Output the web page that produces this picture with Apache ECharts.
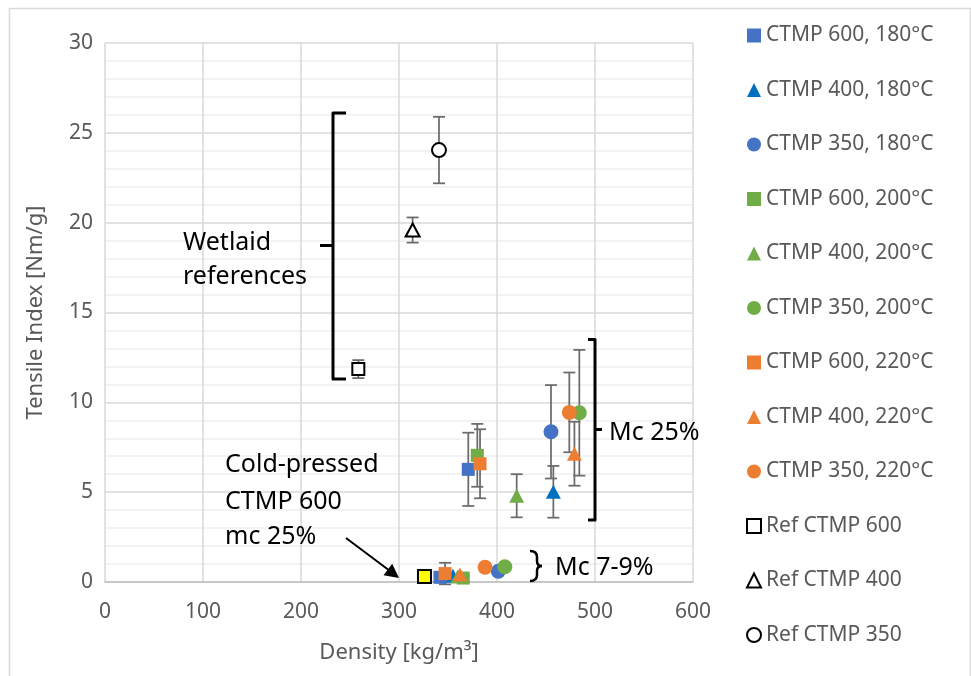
<!DOCTYPE html>
<html>
<head>
<meta charset="utf-8">
<script src="https://cdn.jsdelivr.net/npm/echarts@6/dist/echarts.min.js"></script>
<style>
  html, body { margin: 0; padding: 0; background: #fff; }
  #chart { width: 971px; height: 676px; }
</style>
</head>
<body>
<div id="chart"></div>
<script>
// Density [kg/m3], tensile index [Nm/g], standard deviation [Nm/g]
const ctmp600_180 = [[370.7, 6.27, 2.04], [341.8, 0.26, 0]];
const ctmp400_180 = [[457.5, 5.02, 1.44], [355.0, 0.35, 0]];
const ctmp350_180 = [[455.1, 8.36, 2.60], [401.3, 0.60, 0]];
const ctmp600_200 = [[379.9, 7.05, 1.75], [365.6, 0.22, 0]];
const ctmp400_200 = [[420.1, 4.80, 1.20], [360.0, 0.30, 0]];
const ctmp350_200 = [[484.0, 9.42, 3.50], [408.0, 0.85, 0]];
const ctmp600_220 = [[382.7, 6.58, 1.92], [347.0, 0.47, 0.60]];
const ctmp400_220 = [[479.0, 7.14, 1.78], [362.2, 0.42, 0]];
const ctmp350_220 = [[473.8, 9.44, 2.22], [387.8, 0.82, 0]];
const refCtmp600 = [[258.5, 11.85, 0.50]];
const refCtmp400 = [[313.9, 19.59, 0.70]];
const refCtmp350 = [[340.8, 24.04, 1.85]];
const coldPressed600 = [[326.0, 0.30, 0]];

const xTicks = { min: 0, max: 600, step: 100 };
const yTicks = { min: 0, max: 30, step: 5 };

const BLUE = '#4472C4', BLUE2 = '#0070C0', GREEN = '#70AD47', ORANGE = '#ED7D31';
const FONT = 'Noto Sans';
const GREY_TEXT = '#595959';

const seriesDefs = [
  { name: 'CTMP 600, 180°C', data: ctmp600_180, symbol: 'rect', size: 13, color: BLUE },
  { name: 'CTMP 400, 180°C', data: ctmp400_180, symbol: 'triangle', size: [15, 14], color: BLUE2 },
  { name: 'CTMP 350, 180°C', data: ctmp350_180, symbol: 'circle', size: 15, color: BLUE },
  { name: 'CTMP 600, 200°C', data: ctmp600_200, symbol: 'rect', size: 13, color: GREEN },
  { name: 'CTMP 400, 200°C', data: ctmp400_200, symbol: 'triangle', size: [15, 14], color: GREEN },
  { name: 'CTMP 350, 200°C', data: ctmp350_200, symbol: 'circle', size: 15, color: GREEN },
  { name: 'CTMP 600, 220°C', data: ctmp600_220, symbol: 'rect', size: 13, color: ORANGE },
  { name: 'CTMP 400, 220°C', data: ctmp400_220, symbol: 'triangle', size: [15, 14], color: ORANGE },
  { name: 'CTMP 350, 220°C', data: ctmp350_220, symbol: 'circle', size: 15, color: ORANGE },
  { name: 'Ref CTMP 600', data: refCtmp600, symbol: 'rect', size: 12, color: '#fff', border: '#000' },
  { name: 'Ref CTMP 400', data: refCtmp400, symbol: 'triangle', size: [14, 13], color: '#fff', border: '#000' },
  { name: 'Ref CTMP 350', data: refCtmp350, symbol: 'circle', size: 14, color: '#fff', border: '#000' },
  { name: 'Cold-pressed CTMP 600', data: coldPressed600, symbol: 'rect', size: 13, color: '#FFFF00', border: '#000' }
];

// Error bars with caps, drawn beneath the markers
function errorBar(params, api) {
  const x = api.value(0), y = api.value(1), e = api.value(2);
  if (!e) return null;
  const top = api.coord([x, y + e]);
  const bot = api.coord([x, y - e]);
  const hw = 6;
  const st = { stroke: '#6b6b6b', lineWidth: 1.75 };
  return {
    type: 'group',
    children: [
      { type: 'line', shape: { x1: top[0], y1: top[1], x2: bot[0], y2: bot[1] }, style: st },
      { type: 'line', shape: { x1: top[0] - hw, y1: top[1], x2: top[0] + hw, y2: top[1] }, style: st },
      { type: 'line', shape: { x1: bot[0] - hw, y1: bot[1], x2: bot[0] + hw, y2: bot[1] }, style: st }
    ]
  };
}

const errorSeries = seriesDefs.map(d => ({
  type: 'custom',
  renderItem: errorBar,
  data: d.data,
  encode: { x: 0, y: 1 },
  z: 1,
  silent: true,
  tooltip: { show: false }
}));

const scatterSeries = seriesDefs.map(d => ({
  type: 'scatter',
  name: d.name,
  data: d.data.map(p => [p[0], p[1]]),
  symbol: d.symbol,
  symbolSize: d.size,
  z: 3,
  itemStyle: {
    color: d.color,
    opacity: 1,
    borderColor: d.border || d.color,
    borderWidth: d.border ? 2 : 0
  }
}));

const chart = echarts.init(document.getElementById('chart'), null, { renderer: 'canvas' });

const black = { stroke: '#000', lineWidth: 3, fill: null, lineJoin: 'round' };
function label(text, x, y, size) {
  return {
    type: 'text', x: x, y: y, z: 10,
    style: { text: text, fill: '#000', font: (size || 25) + 'px "' + FONT + '"', textVerticalAlign: 'middle' }
  };
}
function curve(x1, y1, cx, cy, x2, y2) {
  return { type: 'bezierCurve', z: 10, shape: { x1: x1, y1: y1, cpx1: cx, cpy1: cy, x2: x2, y2: y2 },
           style: { stroke: '#000', lineWidth: 2.5, fill: null } };
}

chart.setOption({
  animation: false,
  grid: { left: 105, right: 278, top: 43, bottom: 94, containLabel: false },
  legend: {
    orient: 'vertical',
    left: 741,
    top: 20,
    itemWidth: 14,
    itemHeight: 14,
    itemGap: 33.5,
    data: seriesDefs.slice(0, 12).map(d => d.name),
    textStyle: { color: GREY_TEXT, fontSize: 21, fontFamily: FONT, lineHeight: 20 }
  },
  xAxis: {
    type: 'value',
    min: xTicks.min, max: xTicks.max, interval: xTicks.step,
    name: 'Density [kg/m³]',
    nameLocation: 'middle',
    nameGap: 60,
    nameTextStyle: { color: GREY_TEXT, fontSize: 22, fontFamily: FONT },
    axisLine: { show: true, lineStyle: { color: '#bfbfbf', width: 1.5 } },
    axisTick: { show: false },
    axisLabel: { color: GREY_TEXT, fontSize: 21, fontFamily: FONT, margin: 20 },
    splitLine: { show: true, lineStyle: { color: '#d9d9d9', width: 1.5 } }
  },
  yAxis: {
    type: 'value',
    min: yTicks.min, max: yTicks.max, interval: yTicks.step,
    name: 'Tensile Index [Nm/g]',
    nameLocation: 'middle',
    nameGap: 58,
    nameRotate: 90,
    nameTextStyle: { color: GREY_TEXT, fontSize: 22, fontFamily: FONT },
    axisLine: { show: false },
    axisTick: { show: false },
    axisLabel: { color: GREY_TEXT, fontSize: 21, fontFamily: FONT, margin: 12 },
    splitLine: { show: true, lineStyle: { color: '#d9d9d9', width: 1.5 } },
    minorTick: { show: false, splitNumber: 5 },
    minorSplitLine: { show: true, lineStyle: { color: '#efefef', width: 1.5 } }
  },
  graphic: [
    // chart frame
    { type: 'rect', shape: { x: 9.5, y: 8.5, width: 961, height: 680 }, style: { fill: null, stroke: '#d9d9d9', lineWidth: 1.5 }, z: 0, silent: true },
    // wetlaid bracket
    { type: 'polyline', shape: { points: [[346, 113], [333, 113], [333, 379], [346, 379]] }, style: black, z: 10 },
    { type: 'line', shape: { x1: 320, y1: 245.5, x2: 333, y2: 245.5 }, style: black, z: 10 },
    label('Wetlaid', 183, 243),
    label('references', 183, 277),
    // Mc 25% bracket
    { type: 'polyline', shape: { points: [[588, 339.5], [595, 339.5], [595, 520], [588, 520]] }, style: black, z: 10 },
    { type: 'line', shape: { x1: 595, y1: 429.5, x2: 602, y2: 429.5 }, style: black, z: 10 },
    label('Mc 25%', 609, 433),
    // Mc 7-9% brace
    curve(530, 551, 537, 551, 537, 557),
    { type: 'line', shape: { x1: 537, y1: 557, x2: 537, y2: 561 }, style: { stroke: '#000', lineWidth: 2.5 }, z: 10 },
    curve(537, 561, 537, 566, 542, 566),
    curve(542, 566, 537, 566, 537, 571),
    { type: 'line', shape: { x1: 537, y1: 571, x2: 537, y2: 575 }, style: { stroke: '#000', lineWidth: 2.5 }, z: 10 },
    curve(537, 575, 537, 581, 530, 581),
    label('Mc 7-9%', 555, 568),
    // cold-pressed note and arrow
    label('Cold-pressed', 225, 465),
    label('CTMP 600', 225, 502),
    label('mc 25%', 225, 537),
    { type: 'line', shape: { x1: 346, y1: 538, x2: 388, y2: 569.5 }, style: { stroke: '#000', lineWidth: 2 }, z: 10 },
    { type: 'polygon', shape: { points: [[399, 578], [383.6, 575.2], [392.2, 563.8]] }, style: { fill: '#000' }, z: 10 }
  ],
  series: errorSeries.concat(scatterSeries)
});
</script>
</body>
</html>
